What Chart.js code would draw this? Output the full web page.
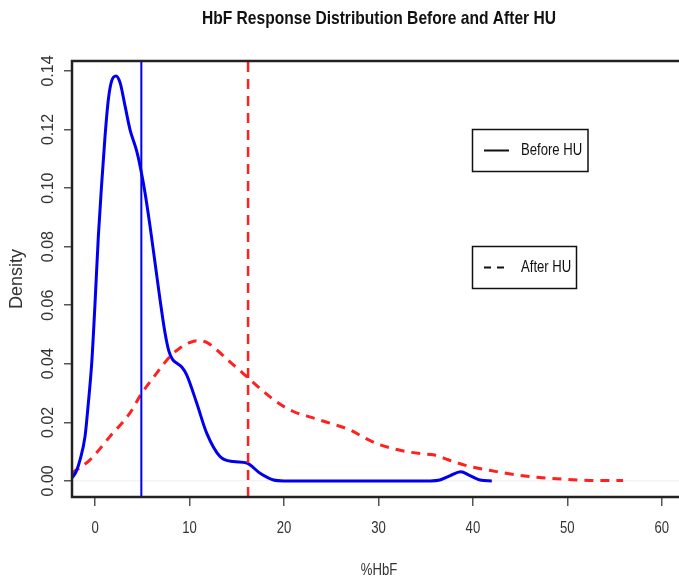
<!DOCTYPE html>
<html>
<head>
<meta charset="utf-8">
<script src="https://cdn.jsdelivr.net/npm/chart.js@4.4.1/dist/chart.umd.min.js"></script>
<style>
  html, body { margin: 0; padding: 0; background: #fff; overflow: hidden; }
  #wrap { width: 700px; height: 576px; }
</style>
</head>
<body>
<div id="wrap"><canvas id="chart" width="700" height="576"></canvas></div>
<script>
// density estimates (%HbF, density)
const beforeX = [-2.47, -2.0, -1.59, -1.06, -0.71, -0.35, 0.0, 0.35, 0.71, 1.06, 1.41, 1.76, 2.22, 2.65, 3.18,
  3.70, 4.41, 4.84, 5.29, 5.82, 6.35, 6.88, 7.41, 7.8, 8.2, 8.65, 9.2, 9.7, 10.76, 11.82, 13.23, 14.64, 16.06,
  17.47, 18.9, 20, 25, 30, 35.5, 36.5, 37.6, 38.7, 39.7, 40.75, 42.0];
const beforeY = [0.0009, 0.0032, 0.0072, 0.0152, 0.0266, 0.0403, 0.0608, 0.0836, 0.1018, 0.1178, 0.1303, 0.1366,
  0.1383, 0.136, 0.128, 0.120, 0.1126, 0.1064, 0.0984, 0.087, 0.0745, 0.0619, 0.0505, 0.0445, 0.0415, 0.0402,
  0.0388, 0.0362, 0.0266, 0.0163, 0.0083, 0.0066, 0.0061, 0.0026, 0.0003, 0, 0, 0, 0, 0.0003, 0.0018, 0.0031,
  0.0018, 0.0003, 0];

const afterX = [-2.47, -0.53, 1.59, 3.7, 4.84, 6.53, 7.94, 9.0, 10.0, 10.76, 11.82, 12.9, 13.94, 15.1, 16.23,
  17.8, 19.4, 20.99, 23, 24.88, 26.99, 28.6, 30.17, 31.6, 33.0, 34.5, 35.8, 36.9, 37.93, 39.6, 41.46, 43.5,
  46.05, 49.57, 53.1, 55.9];
const afterY = [0.0026, 0.0072, 0.0152, 0.0232, 0.0294, 0.0368, 0.0425, 0.0454, 0.0472, 0.0479, 0.0473,
  0.0447, 0.0416, 0.0384, 0.0351, 0.0306, 0.0266, 0.0237, 0.0216, 0.0197, 0.0174, 0.0146, 0.0123, 0.011,
  0.01, 0.0093, 0.0089, 0.0078, 0.0066, 0.005, 0.0038, 0.0026, 0.0015, 0.0006, 0.0001, 0.0001];

const beforeMedian = 4.9;
const afterMedian = 16.2;

const xTicks = [0, 10, 20, 30, 40, 50, 60];
const yTicks = [0, 0.02, 0.04, 0.06, 0.08, 0.10, 0.12, 0.14];

const X_MIN = -2.44, X_MAX = 62.56;
const Y_MIN = -0.0055, Y_MAX = 0.1434;

const SANS = '"Liberation Sans", Arial, sans-serif';
const NARROW_SCALE = 0.82;

const toPoints = (xs, ys) => xs.map((x, i) => ({ x: x, y: ys[i] }));

// no condensed face is installed, so squeeze the regular one like Arial Narrow
function narrowText(ctx, text, x, y, font) {
  ctx.save();
  ctx.translate(x, y);
  ctx.scale(NARROW_SCALE, 1);
  ctx.font = font;
  ctx.fillText(text, 0, 0);
  ctx.restore();
}

const rStyle = {
  id: 'rStyle',
  beforeDatasetsDraw(chart) {
    const { ctx, chartArea: a, scales: { y } } = chart;
    ctx.save();
    ctx.strokeStyle = '#eeeeee';
    ctx.lineWidth = 1;
    const y0 = y.getPixelForValue(0);
    ctx.beginPath();
    ctx.moveTo(a.left, y0);
    ctx.lineTo(a.right, y0);
    ctx.stroke();
    ctx.restore();
  },
  afterDraw(chart) {
    const { ctx, chartArea: a, scales: { x, y } } = chart;
    ctx.save();
    ctx.strokeStyle = '#222';
    ctx.lineWidth = 2.5;
    ctx.strokeRect(a.left, a.top, a.right - a.left, a.bottom - a.top);

    // rotated y tick labels, R style
    ctx.fillStyle = '#333';
    ctx.font = '16px ' + SANS;
    ctx.textAlign = 'center';
    ctx.textBaseline = 'middle';
    yTicks.forEach(v => {
      ctx.save();
      ctx.translate(49, y.getPixelForValue(v));
      ctx.rotate(-Math.PI / 2);
      ctx.fillText(v.toFixed(2), 0, 0);
      ctx.restore();
    });

    xTicks.forEach(v => {
      narrowText(ctx, String(v), x.getPixelForValue(v), 529, '16px ' + SANS);
    });

    ctx.save();
    ctx.translate(17, (a.top + a.bottom) / 2);
    ctx.rotate(-Math.PI / 2);
    ctx.font = '18px ' + SANS;
    ctx.fillText('Density', 0, 0);
    ctx.restore();

    const cx = (a.left + a.right) / 2;
    ctx.fillStyle = '#111';
    narrowText(ctx, 'HbF Response Distribution Before and After HU', cx, 19, 'bold 19px ' + SANS);

    ctx.fillStyle = '#333';
    narrowText(ctx, '%HbF', cx, 571, '16px ' + SANS);

    // legends
    ctx.strokeStyle = '#111';
    ctx.lineWidth = 1.5;
    ctx.strokeRect(472.5, 129.5, 115.5, 42);
    ctx.strokeRect(472.5, 246.5, 104, 42);
    ctx.lineWidth = 2;
    ctx.beginPath();
    ctx.moveTo(484, 150.5);
    ctx.lineTo(509, 150.5);
    ctx.stroke();
    ctx.setLineDash([7, 6]);
    ctx.beginPath();
    ctx.moveTo(484, 267.5);
    ctx.lineTo(510, 267.5);
    ctx.stroke();
    ctx.setLineDash([]);
    ctx.fillStyle = '#111';
    ctx.textAlign = 'left';
    narrowText(ctx, 'Before HU', 521, 151, '16px ' + SANS);
    narrowText(ctx, 'After HU', 521, 268, '16px ' + SANS);
    ctx.restore();
  }
};

new Chart(document.getElementById('chart'), {
  type: 'scatter',
  data: {
    datasets: [
      {
        label: 'Before HU median', data: [{ x: beforeMedian, y: Y_MIN }, { x: beforeMedian, y: Y_MAX }],
        showLine: true, borderColor: '#0000ee', borderWidth: 2, pointRadius: 0
      },
      {
        label: 'After HU median', data: [{ x: afterMedian, y: Y_MIN }, { x: afterMedian, y: Y_MAX }],
        showLine: true, borderColor: '#ff2020', borderWidth: 2.5, borderDash: [10, 7], pointRadius: 0
      },
      {
        label: 'Before HU', data: toPoints(beforeX, beforeY),
        showLine: true, borderColor: '#0000ee', borderWidth: 3, pointRadius: 0,
        cubicInterpolationMode: 'monotone'
      },
      {
        label: 'After HU', data: toPoints(afterX, afterY),
        showLine: true, borderColor: '#ff2020', borderWidth: 3, borderDash: [9, 7], pointRadius: 0,
        cubicInterpolationMode: 'monotone'
      }
    ]
  },
  options: {
    responsive: false,
    animation: false,
    devicePixelRatio: 1,
    layout: { padding: { top: 61, right: 14, left: 0, bottom: 0 } },
    plugins: { legend: { display: false }, tooltip: { enabled: false } },
    scales: {
      x: {
        type: 'linear', min: X_MIN, max: X_MAX,
        afterBuildTicks: s => { s.ticks = xTicks.map(v => ({ value: v })); },
        afterFit: s => { s.height = 79; },
        border: { display: false },
        grid: { drawOnChartArea: false, drawTicks: true, tickLength: 9, color: '#555', lineWidth: 1.5 },
        ticks: { display: false }
      },
      y: {
        type: 'linear', min: Y_MIN, max: Y_MAX,
        afterBuildTicks: s => { s.ticks = yTicks.map(v => ({ value: v })); },
        afterFit: s => { s.width = 72; },
        border: { display: false },
        grid: { drawOnChartArea: false, drawTicks: true, tickLength: 8, color: '#555', lineWidth: 1.5 },
        ticks: { display: false }
      }
    }
  },
  plugins: [rStyle]
});
</script>
</body>
</html>
